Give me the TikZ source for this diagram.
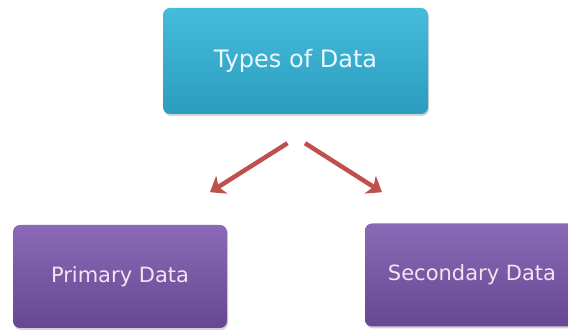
\documentclass[tikz,border=0pt]{standalone}
\usepackage{fontspec}
\setmainfont{DejaVu Sans}
\usetikzlibrary{arrows.meta,shadows}

\definecolor{topcyan}{HTML}{45BCDC}
\definecolor{botcyan}{HTML}{2B9DBE}
\definecolor{toppurple}{HTML}{8A6AB6}
\definecolor{botpurple}{HTML}{674792}
\definecolor{arrowred}{HTML}{C0504D}

\tikzset{
  databox/.style={rounded corners=7pt, minimum width=214pt, minimum height=103pt,
    drop shadow={shadow xshift=1pt, shadow yshift=-2pt, opacity=0.35},
    font=\fontsize{21}{24}\selectfont, text=white!90!violet},
  mainbox/.style={databox, minimum width=265pt, minimum height=106pt,
    top color=topcyan, bottom color=botcyan, text=white!92!cyan,
    font=\fontsize{24}{27}\selectfont},
  subbox/.style={databox, top color=toppurple, bottom color=botpurple},
  typearrow/.style={arrowred, line width=4.5pt,
    -{Stealth[length=14pt, width=21pt, inset=4pt]}}
}

\begin{document}
\begin{tikzpicture}[x=1pt,y=1pt]
  \useasboundingbox (0,0) rectangle (568,331);

  % Boxes
  \node[mainbox] (types) at (295.5,270) {Types of Data};
  \node[subbox] (primary) at (120,54.5) {Primary Data};
  \node[subbox] (secondary) at (472,56) {Secondary Data};

  % Arrow ends
  \coordinate (lstart) at ([shift={(-8,-29)}]types.south);
  \coordinate (ltip) at ([shift={(-85.5,-78)}]types.south);
  \coordinate (rstart) at ([shift={(9.5,-29)}]types.south);
  \coordinate (rtip) at ([shift={(86.5,-78)}]types.south);

  % Arrows
  \draw[typearrow] (lstart) -- (ltip);
  \draw[typearrow] (rstart) -- (rtip);
\end{tikzpicture}
\end{document}
